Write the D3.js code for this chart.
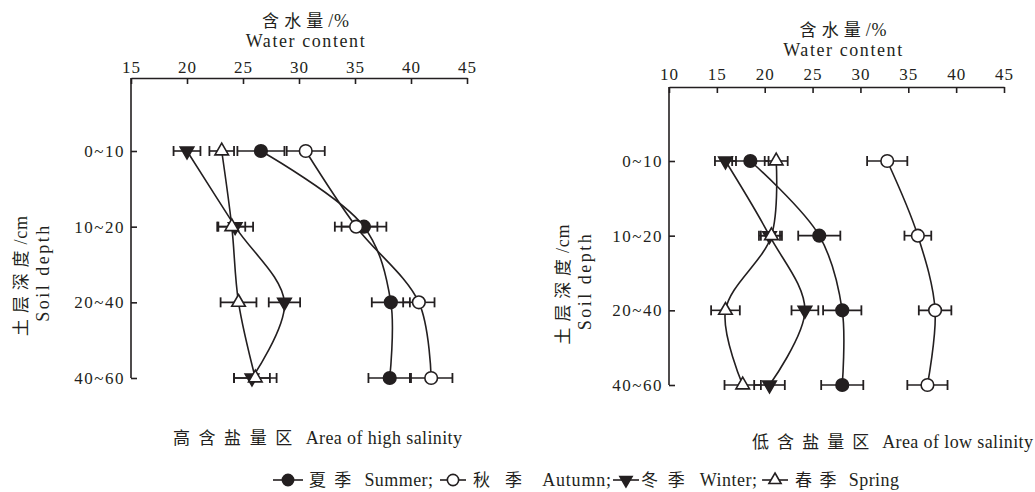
<!DOCTYPE html>
<meta charset="utf-8">
<body style="margin:0">
<svg width="1035" height="492"></svg>
<script src="https://d3js.org/d3.v7.min.js"></script>
<script>
// depth classes (cm)
var depths = ["0~10", "10~20", "20~40", "40~60"];
var seasonLabels = ["夏季 Summer;", "秋季 Autumn;", "冬季 Winter;", "春季 Spring"];
var highTicks = [15, 20, 25, 30, 35, 40, 45];
var lowTicks = [10, 15, 20, 25, 30, 35, 40, 45];

// high salinity area, water content %
var highSummer = [26.6, 35.8, 38.2, 38.1];
var highSummerErr = [2.1, 2.0, 1.7, 1.9];
var highAutumn = [30.6, 35.1, 40.7, 41.8];
var highAutumnErr = [1.7, 1.9, 1.4, 1.9];
var highWinter = [20.0, 24.3, 28.7, 25.8];
var highWinterErr = [1.2, 1.6, 1.4, 1.6];
var highSpring = [23.1, 24.0, 24.6, 26.1];
var highSpringErr = [1.1, 1.2, 1.6, 1.9];

// low salinity area
var lowSummer = [18.5, 25.7, 28.1, 28.1];
var lowSummerErr = [1.9, 2.2, 2.0, 2.2];
var lowAutumn = [32.8, 36.0, 37.8, 37.0];
var lowAutumnErr = [2.1, 1.4, 1.7, 2.1];
var lowWinter = [15.9, 20.5, 24.2, 20.5];
var lowWinterErr = [1.1, 1.1, 1.4, 1.6];
var lowSpring = [21.2, 20.7, 15.9, 17.7];
var lowSpringErr = [1.2, 1.1, 1.5, 1.9];

var ink = "#231f20";
var svg = d3.select("svg");

var shapes = ["dot", "circle", "down", "up"];

function marker(sel, shape, scale) {
  scale = scale || 1;
  var round = shape == "dot" || shape == "circle";
  sel.append("path")
    .attr("d", d3.symbol(round ? d3.symbolCircle : d3.symbolTriangle, (round ? 125 : 80) * scale)())
    .attr("transform", shape == "down" ? "rotate(180)" : null)
    .attr("fill", shape == "dot" || shape == "down" ? ink : "#fff")
    .attr("stroke", ink).attr("stroke-width", 1.6);
}

function label(sel, size) {
  return sel.attr("font-family", "Liberation Serif").attr("font-size", size).attr("fill", ink);
}

// mixed chinese / latin text: each run in its own font, chinese runs get the extra spacing
function rich(sel, str, width) {
  var runs = str.match(/[\u3000-\u9fff\uff00-\uffef]+|[^\u3000-\u9fff\uff00-\uffef]+/g);
  var cjkSpans = [], nCjk = 0;
  runs.forEach(function(r) {
    var cjk = /[\u3000-\u9fff]/.test(r);
    var t = sel.append("tspan").attr("font-family", cjk ? "Noto Sans CJK SC" : "Liberation Serif")
      .attr("font-size", cjk ? 17 : 18).text(r);
    if (cjk) { cjkSpans.push(t); nCjk += r.length; }
  });
  if (width) {
    var w = sel.node().getComputedTextLength();
    var extra = width - w;
    if (nCjk > 0) {
      var ls = Math.max(0, extra * 0.8 / nCjk);
      cjkSpans.forEach(function(t) { t.attr("letter-spacing", ls); });
      w = sel.node().getComputedTextLength();
      extra = width - w;
    }
    sel.attr("letter-spacing", Math.max(0, extra / (str.length - 1)));
    cjkSpans.forEach(function(t) { t.attr("letter-spacing", +t.attr("letter-spacing") + Math.max(0, extra / (str.length - 1))); });
  }
  return sel;
}

function panel(cfg) {
  var x = d3.scaleLinear().domain(cfg.xDomain).range(cfg.xRange);
  var y = d3.scalePoint().domain(depths).range(cfg.yRange);
  var g = svg.append("g");

  var xa = g.append("g")
    .attr("transform", "translate(0," + cfg.top + ")")
    .call(d3.axisTop(x).tickValues(cfg.ticks).tickSizeInner(-6).tickSizeOuter(0).tickPadding(cfg.tickPad));
  label(xa.selectAll("text"), 17).attr("letter-spacing", 1);

  var ya = g.append("g")
    .attr("transform", "translate(" + cfg.xRange[0] + ",0)")
    .call(d3.axisLeft(y).tickSizeInner(-6).tickSizeOuter(0).tickPadding(6));
  ya.select(".domain").remove();
  label(ya.selectAll("text"), 17).attr("letter-spacing", 1.5);
  g.selectAll("path.domain, .tick line").attr("stroke", ink).attr("stroke-width", 1.6);
  g.append("line")
    .attr("x1", cfg.xRange[0]).attr("x2", cfg.xRange[0])
    .attr("y1", cfg.top).attr("y2", y(depths[depths.length - 1]))
    .attr("stroke", ink).attr("stroke-width", 1.6);

  // axis titles
  var tx = d3.mean(cfg.xRange) + 7;
  rich(label(g.append("text"), 17).attr("x", tx).attr("y", cfg.top - 51).attr("text-anchor", "middle"), "含水量/%", 87);
  rich(label(g.append("text"), 17).attr("x", tx).attr("y", cfg.top - 31).attr("text-anchor", "middle"), "Water content", 119);

  var my = d3.mean(cfg.yRange) + 8, lx = cfg.xRange[0] + cfg.yShift;
  rich(label(g.append("text"), 17).attr("transform", "translate(" + (lx - 104) + "," + (my + 3) + ") rotate(-90)")
    .attr("text-anchor", "middle"), "土层深度/cm", 120);
  rich(label(g.append("text"), 17).attr("transform", "translate(" + (lx - 82) + "," + my + ") rotate(-90)")
    .attr("text-anchor", "middle"), "Soil depth", 96);

  rich(label(g.append("text"), 17).attr("x", cfg.subX).attr("y", cfg.subY), cfg.sub, cfg.subW);

  var line = d3.line()
    .x(function(d) { return x(d.v); })
    .y(function(d) { return y(d.depth); })
    .curve(d3.curveCatmullRom.alpha(0.5));

  cfg.series.forEach(function(s) {
    s.pts = depths.map(function(dp, i) { return { depth: dp, v: s.values[i], e: s.errs[i] }; });
    g.append("path").datum(s.pts).attr("d", line)
      .attr("fill", "none").attr("stroke", ink).attr("stroke-width", 1.6);
  });

  cfg.series.forEach(function(s) {
    var eb = g.selectAll(null).data(s.pts).enter().append("g")
      .attr("transform", function(d) { return "translate(0," + y(d.depth) + ")"; });
    eb.append("line").attr("x1", function(d) { return x(d.v - d.e); })
      .attr("x2", function(d) { return x(d.v + d.e); })
      .attr("stroke", ink).attr("stroke-width", 1.6);
    [-1, 1].forEach(function(sg) {
      eb.append("line")
        .attr("x1", function(d) { return x(d.v + sg * d.e); })
        .attr("x2", function(d) { return x(d.v + sg * d.e); })
        .attr("y1", -5).attr("y2", 5)
        .attr("stroke", ink).attr("stroke-width", 1.8);
    });
  });

  cfg.series.forEach(function(s) {
    g.selectAll(null).data(s.pts).enter().append("g")
      .attr("transform", function(d) { return "translate(" + x(d.v) + "," + y(d.depth) + ")"; })
      .each(function() { marker(d3.select(this), s.shape); });
  });
}

panel({
  xDomain: [15, 45], xRange: [131, 467], yRange: [151, 378], top: 78, tickPad: 5, yShift: 0,
  ticks: highTicks,
  sub: "高含盐量区 Area of high salinity", subX: 173, subY: 444, subW: 289,
  series: [
    { values: highSummer, errs: highSummerErr, shape: shapes[0] },
    { values: highAutumn, errs: highAutumnErr, shape: shapes[1] },
    { values: highWinter, errs: highWinterErr, shape: shapes[2] },
    { values: highSpring, errs: highSpringErr, shape: shapes[3] }
  ]
});

panel({
  xDomain: [10, 45], xRange: [669, 1004], yRange: [161, 385], top: 87, tickPad: 7, yShift: 4,
  ticks: lowTicks,
  sub: "低含盐量区 Area of low salinity", subX: 752, subY: 448, subW: 281,
  series: [
    { values: lowSummer, errs: lowSummerErr, shape: shapes[0] },
    { values: lowAutumn, errs: lowAutumnErr, shape: shapes[1] },
    { values: lowWinter, errs: lowWinterErr, shape: shapes[2] },
    { values: lowSpring, errs: lowSpringErr, shape: shapes[3] }
  ]
});

// legend layout
var legendSym = [273, 440, 613, 762];
var legendText = [309, 473, 641, 795];
var legendW = [124, 138, 116, 104];
var lg = svg.append("g").attr("transform", "translate(0,480)");
seasonLabels.forEach(function(lab, i) {
  var it = lg.append("g").attr("transform", "translate(" + legendSym[i] + ",0)");
  var sw = i == 0 ? 30 : 26;
  it.append("line").attr("x1", 0).attr("x2", sw).attr("stroke", ink).attr("stroke-width", 1.6);
  marker(it.append("g").attr("transform", "translate(" + sw / 2 + ",0)"), shapes[i], 0.8);
  rich(label(lg.append("text"), 17).attr("x", legendText[i]).attr("y", 6), lab, legendW[i]);
});
</script>
</body>
